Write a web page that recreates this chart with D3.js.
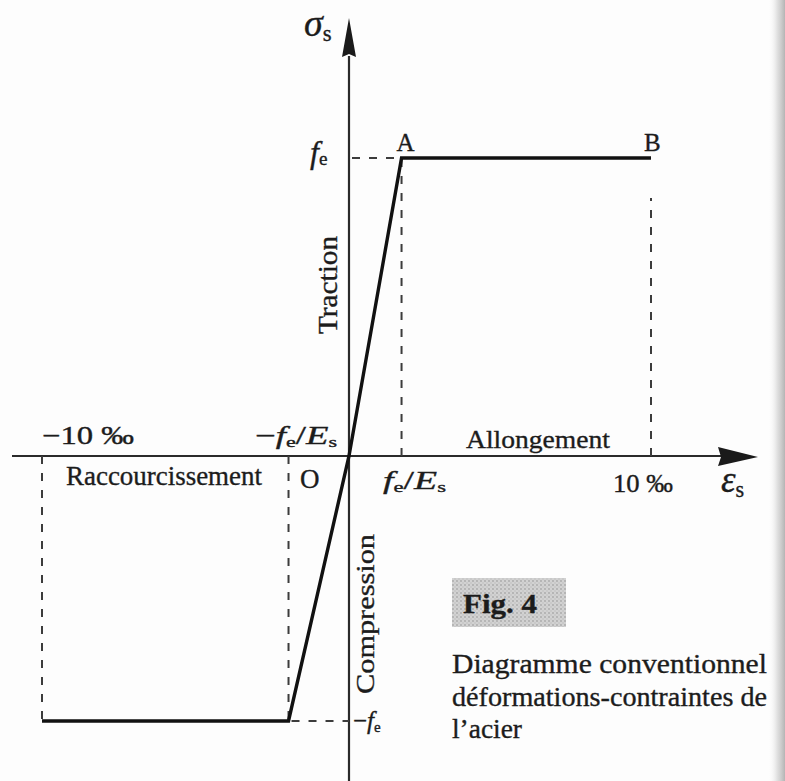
<!DOCTYPE html>
<html>
<head>
<meta charset="utf-8">
<script src="https://cdn.jsdelivr.net/npm/d3@7"></script>
<style>
  html, body { margin: 0; padding: 0; background: #fff; }
  svg { display: block; }
</style>
</head>
<body>
<script>
// Conventional stress–strain diagram of reinforcing steel (elastic – perfectly plastic)

// strain ε_s in ‰ and stress σ_s as a fraction of f_e for the bilinear law
const strain = [-10, -1.97, 0, 1.74, 10];
const stress = [-1, -1, 0, 1, 1];

// reference strains marked on the horizontal axis
const markStrains = [-10, -1.97, 1.74, 10];
const markStress = [-1, -1, 1, 1];

// point names on the tension plateau
const pointNames = ["A", "B"];
const pointStrains = [1.74, 10];

const W = 785, H = 781;
const ink = "#1c1c1c";
const serif = "'Liberation Serif', 'Times New Roman', serif";

const svg = d3.select("body").append("svg")
  .attr("width", W).attr("height", H)
  .style("font-family", serif);

const defs = svg.append("defs");

// dotted screen used behind the figure number
const pat = defs.append("pattern")
  .attr("id", "screen").attr("patternUnits", "userSpaceOnUse")
  .attr("width", 4).attr("height", 4);
pat.append("rect").attr("width", 4).attr("height", 4).attr("fill", "#d2d2d2");
pat.append("circle").attr("cx", 1).attr("cy", 1).attr("r", 0.9).attr("fill", "#a8a8a8");
pat.append("circle").attr("cx", 3).attr("cy", 3).attr("r", 0.7).attr("fill", "#bababa");

// page edge shading at the binding side
const edge = defs.append("linearGradient").attr("id", "edge")
  .attr("x1", 0).attr("x2", 1).attr("y1", 0).attr("y2", 0);
edge.append("stop").attr("offset", "0%").attr("stop-color", "#fff").attr("stop-opacity", 0);
edge.append("stop").attr("offset", "55%").attr("stop-color", "#d8d8d8").attr("stop-opacity", 0.8);
edge.append("stop").attr("offset", "100%").attr("stop-color", "#b4b4b4");

svg.append("rect").attr("width", W).attr("height", H).attr("fill", "#fdfdfd");

// piecewise scales: tension and compression halves drawn at their own lengths
const x = d3.scaleLinear().domain([-10, 0, 10]).range([42, 349, 651]);
const y = d3.scaleLinear().domain([-1, 0, 1]).range([721, 456, 158]);

const x0 = x(0), y0 = y(0);

// ---- axes ----
svg.append("line")
  .attr("x1", 12).attr("x2", 722).attr("y1", y0).attr("y2", y0)
  .attr("stroke", "#2a2a2a").attr("stroke-width", 2.2);
svg.append("path")
  .attr("d", `M${758},${y0 + 1} L${718},${y0 - 9} L${721},${y0 + 1} L${718},${y0 + 10} Z`)
  .attr("fill", "#1a1a1a");

svg.append("line")
  .attr("x1", x0).attr("x2", x0).attr("y1", 56).attr("y2", H)
  .attr("stroke", "#2a2a2a").attr("stroke-width", 2.2);
svg.append("path")
  .attr("d", `M${x0},${18} L${x0 + 7},${57} L${x0},${54} L${x0 - 7},${57} Z`)
  .attr("fill", "#1a1a1a");

// ---- dashed guides ----
const dash = { stroke: "#3c3c3c", "stroke-width": 2, "stroke-dasharray": "8,9" };
function dashed(x1, y1, x2, y2) {
  const l = svg.append("line")
    .attr("x1", x1).attr("y1", y1).attr("x2", x2).attr("y2", y2);
  Object.entries(dash).forEach(([k, v]) => l.attr(k, v));
}
markStrains.forEach((e, i) => {
  const yEnd = Math.abs(e) === 10 && markStress[i] > 0 ? y(markStress[i]) + 40 : y(markStress[i]);
  dashed(x(e), y0, x(e), yEnd);
});
dashed(x0 + 3, y(1), x(1.74) - 3, y(1));
dashed(x(-1.97) + 3, y(-1), x0, y(-1));

// ---- stress–strain law ----
const line = d3.line().x(d => x(d[0])).y(d => y(d[1]));
svg.append("path")
  .datum(d3.zip(strain, stress))
  .attr("d", line)
  .attr("fill", "none")
  .attr("stroke", "#111")
  .attr("stroke-width", 3.4)
  .attr("stroke-linejoin", "miter");

// ---- text helpers ----
function label(px, py, parts, size, opts = {}) {
  const t = svg.append("text")
    .attr("x", px).attr("y", py)
    .attr("font-size", size)
    .attr("fill", ink)
    .attr("stroke", ink)
    .attr("stroke-width", 0.35);
  if (opts.anchor) t.attr("text-anchor", opts.anchor);
  if (opts.weight) t.attr("font-weight", opts.weight);
  if (opts.transform) t.attr("transform", opts.transform);
  if (opts.length) t.attr("textLength", opts.length).attr("lengthAdjust", "spacingAndGlyphs");
  parts.forEach(p => {
    const s = t.append("tspan").text(p.t);
    if (p.i) s.attr("font-style", "italic");
    if (p.sub) s.attr("font-size", size * 0.6).attr("dy", p.sub);
    if (p.up) s.attr("dy", p.up);
  });
  return t;
}

// axis titles
label(304, 36, [{ t: "σ", i: true }, { t: "s", sub: 5 }], 38);
label(721, 492, [{ t: "ε", i: true }, { t: "s", sub: 5 }], 37);

// stress marks
label(310, 163, [{ t: "f", i: true }, { t: "e", sub: 2 }], 32);
label(353, 729, [{ t: "−" }, { t: "f", i: true }, { t: "e", sub: 3 }], 25);

// plateau points
pointNames.forEach((n, i) => {
  label(x(pointStrains[i]) + (i === 0 ? -5 : -7), 151, [{ t: n }], 25);
});

// strain marks
label(42, 444, [{ t: "−10 ‰" }], 25, { length: 92 });
label(255, 444, [{ t: "−" }, { t: "f", i: true }, { t: "e", sub: 3 }, { t: "/", up: -3 }, { t: "E", i: true }, { t: "s", sub: 3 }], 25, { length: 82 });
label(383, 489, [{ t: "f", i: true }, { t: "e", sub: 3 }, { t: "/", up: -3 }, { t: "E", i: true }, { t: "s", sub: 3 }], 26, { length: 63 });
label(613, 492, [{ t: "10 ‰" }], 25, { length: 60 });
label(300, 488, [{ t: "O" }], 27);

// zone names
label(66, 485, [{ t: "Raccourcissement" }], 27, { length: 196 });
label(466, 448, [{ t: "Allongement" }], 26, { length: 144 });
label(0, 0, [{ t: "Traction" }], 27, { anchor: "middle", length: 98, transform: "translate(337,285) rotate(-90)" });
label(0, 0, [{ t: "Compression" }], 26, { anchor: "middle", length: 160, transform: "translate(374,614) rotate(-90)" });

// figure number and caption
svg.append("rect").attr("x", 452).attr("y", 578).attr("width", 114).attr("height", 49)
  .attr("fill", "url(#screen)");
label(463, 613, [{ t: "Fig. 4" }], 28, { weight: "bold", length: 74 });
const caption = ["Diagramme conventionnel", "déformations-contraintes de", "l’acier"];
const capLen = [315, 315, 70];
caption.forEach((c, i) => label(452, 673 + i * 32.5, [{ t: c }], 27, { length: capLen[i] }));

// binding edge
svg.append("rect").attr("x", 768).attr("y", 0).attr("width", 17).attr("height", H)
  .attr("fill", "url(#edge)");
</script>
</body>
</html>
